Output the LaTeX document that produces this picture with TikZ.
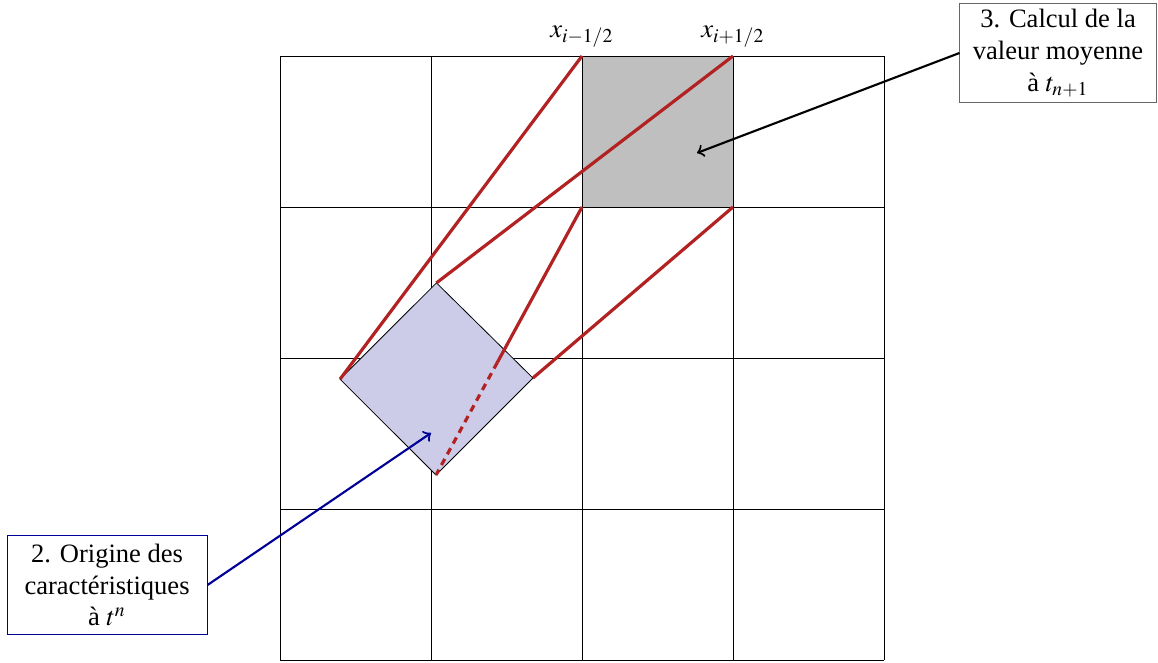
\documentclass[tikz,border=0pt]{standalone}
\usepackage{mathptmx}
\usepackage{fontspec}
\setmainfont{Liberation Serif}
\usetikzlibrary{calc}
\definecolor{rouge}{RGB}{178,34,34}
\definecolor{lavande}{RGB}{204,204,232}
\definecolor{marine}{RGB}{0,0,150}

\begin{document}
\begin{tikzpicture}[line width=0.3pt,>=to,
  carac/.style={rouge,line width=1.2pt},
  boite/.style={align=center,inner sep=2pt,font=\fontsize{10}{12}\selectfont}]
\useasboundingbox (-3.709,-0.027) rectangle (11.629,8.742);
% cellule grise : valeur moyenne a t_{n+1}
\fill[black!25] (4,6) rectangle (6,8);
% grille 4x4
\foreach \i in {0,2,4,6,8}{
  \draw (\i,0) -- (\i,8);
  \draw (0,\i) -- (8,\i);
}
% carre tourne : origine des caracteristiques
\coordinate (G) at (0.795,3.72);
\coordinate (H) at (2.072,4.995);
\coordinate (D) at (3.350,3.735);
\coordinate (B) at (2.066,2.450);
\filldraw[fill=lavande,draw=black] (G) -- (H) -- (D) -- (B) -- cycle;
% caracteristiques
\coordinate (A) at (4,8);
\coordinate (C) at (6,8);
\coordinate (E) at (4,6);
\coordinate (F) at (6,6);
\draw[carac] (A) -- (G);
\draw[carac] (C) -- (H);
\draw[carac] (F) -- (D);
\coordinate (M) at ($(E)!0.58!(B)$);
\draw[carac] (E) -- (M);
\draw[carac,dash pattern=on 2.6pt off 2pt] (M) -- (B);
% abscisses des interfaces
\node[anchor=base] (xg) at (4,8.25) {$x_{i-1/2}$};
\node[anchor=base] (xd) at (6,8.25) {$x_{i+1/2}$};
% etiquettes
\node[boite,draw=black!60,minimum width=2.6cm,minimum height=1.23cm] (moyenne) at (10.305,8.04)
  {3. Calcul de la\\valeur moyenne\\à $t_{n+1}$};
\node[boite,draw=marine,minimum width=2.65cm,minimum height=1.32cm] (origine) at (-2.291,0.993)
  {2. Origine des\\caractéristiques\\à $t^n$};
\coordinate (cm) at (5.523,6.716);
\coordinate (co) at (2.0,3.007);
\draw[->,line width=0.8pt] (moyenne.west) -- (cm);
\draw[->,line width=0.8pt,marine] (origine.east) -- (co);
\end{tikzpicture}
\end{document}
